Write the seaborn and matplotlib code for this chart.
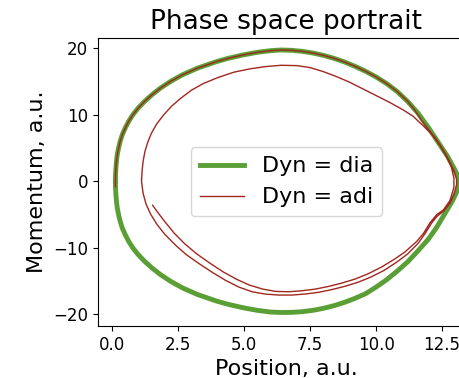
import matplotlib
matplotlib.use("Agg")
import matplotlib.pyplot as plt
import pandas as pd
import seaborn as sns

# Diabatic trajectory: one closed orbit in phase space (clockwise from the left turning point)
dia_position = [0.12, 0.125, 0.14, 0.16, 0.19, 0.24, 0.30, 0.38, 0.49, 0.62, 0.78, 0.98,
                1.22, 1.50, 1.82, 2.20, 2.65, 3.22, 3.95, 4.40, 4.95, 5.50, 6.00, 6.40,
                6.80, 7.20, 7.60, 8.00, 8.40, 8.80, 9.20, 9.60, 10.00, 10.40, 10.80, 11.20,
                11.60, 12.00, 12.40, 12.70, 12.95, 13.10, 13.15,
                13.10, 12.90, 12.60, 12.30, 12.00, 11.60, 11.20, 10.80, 10.40, 10.00, 9.60,
                9.20, 8.80, 8.40, 8.00, 7.60, 7.20, 6.80, 6.40, 6.00, 5.50, 4.95, 4.40,
                3.95, 3.22, 2.65, 2.20, 1.82, 1.50, 1.22, 0.98, 0.78, 0.62, 0.49, 0.38,
                0.30, 0.24, 0.19, 0.16, 0.14, 0.125, 0.12]
dia_momentum = [0.0, 1.0, 2.0, 3.0, 4.0, 5.0, 6.0, 7.0, 8.0, 9.0, 10.0, 11.0,
                12.0, 13.0, 14.0, 15.0, 16.0, 17.0, 18.0, 18.5, 19.0, 19.4, 19.65, 19.75,
                19.7, 19.55, 19.3, 18.95, 18.5, 17.95, 17.3, 16.55, 15.7, 14.7, 13.5, 12.0,
                10.2, 8.0, 5.6, 3.8, 2.0, 0.8, 0.0,
                -1.2, -2.9, -4.9, -6.9, -8.6, -10.4, -12.1, -13.5, -14.8, -15.9, -16.9,
                -17.6, -18.2, -18.7, -19.1, -19.4, -19.6, -19.7, -19.72, -19.65, -19.4, -19.0, -18.5,
                -18.0, -17.0, -16.0, -15.0, -14.0, -13.0, -12.0, -11.0, -10.0, -9.0, -8.0, -7.0,
                -6.0, -5.0, -4.0, -3.0, -2.0, -1.0, 0.0]

# Adiabatic trajectory: starts on the orbit, loses energy at each right-hand turn
adi_position = [0.12, 0.12, 0.125, 0.14, 0.16, 0.19, 0.24, 0.30, 0.38, 0.49, 0.62, 0.78,
                0.98, 1.22, 1.50, 1.82, 2.20, 2.65, 3.22, 3.95, 4.40, 4.95, 5.50, 6.00,
                6.40, 6.80, 7.20, 7.60, 8.00, 8.40, 8.80, 9.20, 9.60, 10.00, 10.40, 10.80,
                11.20, 11.45, 11.70, 12.00, 12.25, 12.50, 12.75, 12.95, 13.05,
                13.05, 12.95, 12.80, 12.55, 12.30, 12.10, 11.85, 11.60, 11.20, 10.80, 10.30,
                9.80, 9.30, 8.80, 8.30, 7.80, 7.30, 6.80, 6.30, 5.80, 5.30, 4.80, 4.30,
                3.80, 3.30, 2.80, 2.40, 2.00, 1.70, 1.45, 1.28, 1.17, 1.11,
                1.13, 1.17, 1.24, 1.34, 1.48, 1.68, 1.95, 2.25, 2.60, 3.00, 3.45, 4.00,
                4.60, 5.20, 5.80, 6.40, 7.00, 7.50, 8.00, 8.50, 9.00, 9.50, 10.00, 10.50,
                11.00, 11.40, 11.80, 12.10, 12.40, 12.65, 12.85, 12.95,
                12.95, 12.80, 12.55, 12.30, 12.05, 11.80, 11.55, 11.10, 10.70, 10.20, 9.70,
                9.20, 8.70, 8.20, 7.70, 7.20, 6.70, 6.20, 5.70, 5.20, 4.70, 4.20, 3.70,
                3.20, 2.75, 2.35, 2.00, 1.75, 1.53]
adi_momentum = [-0.8, 0.0, 1.0, 2.0, 3.0, 4.0, 5.0, 6.0, 7.0, 8.0, 9.0, 10.0,
                11.0, 12.0, 13.0, 14.0, 15.0, 16.0, 17.0, 18.0, 18.5, 19.0, 19.4, 19.65,
                19.75, 19.7, 19.55, 19.3, 18.95, 18.5, 17.95, 17.3, 16.55, 15.7, 14.7, 13.5,
                12.0, 10.8, 9.3, 7.7, 6.5, 4.9, 3.2, 1.6, 0.3,
                -0.5, -2.0, -3.3, -4.5, -5.3, -6.3, -7.9, -9.3, -10.9, -12.1, -13.4,
                -14.4, -15.2, -15.8, -16.3, -16.7, -16.95, -17.1, -17.1, -16.95, -16.6, -15.9, -14.9,
                -13.7, -12.4, -11.0, -9.6, -8.0, -6.5, -4.9, -3.4, -1.8, 0.0,
                1.5, 3.0, 4.5, 5.8, 7.2, 8.6, 10.0, 11.3, 12.5, 13.7, 14.7, 15.6,
                16.4, 16.9, 17.25, 17.45, 17.4, 17.1, 16.5, 15.75, 14.9, 13.9, 12.9, 11.9,
                10.8, 9.8, 8.3, 7.1, 5.6, 4.0, 2.2, 0.5,
                -0.9, -2.9, -4.3, -5.0, -6.2, -7.8, -9.0, -10.6, -11.7, -12.9, -13.9,
                -14.7, -15.3, -15.8, -16.2, -16.45, -16.6, -16.55, -16.2, -15.6, -14.7, -13.6, -12.3,
                -10.9, -9.4, -7.8, -6.1, -4.8, -3.6]

dia = pd.DataFrame({"Position": dia_position, "Momentum": dia_momentum})
adi = pd.DataFrame({"Position": adi_position, "Momentum": adi_momentum})

fig = plt.figure(figsize=(4.59, 3.78), dpi=100)
ax = fig.add_axes([0.2129, 0.1376, 0.822, 0.7627])

sns.lineplot(data=dia, x="Position", y="Momentum", sort=False, estimator=None,
             color="#5a9f35", linewidth=3.5, solid_joinstyle="round",
             label="Dyn = dia", ax=ax)
sns.lineplot(data=adi, x="Position", y="Momentum", sort=False, estimator=None,
             color="#a1271f", linewidth=1.0, solid_joinstyle="round",
             label="Dyn = adi", ax=ax)

ax.set_xlim(-0.55, 13.75)
ax.set_ylim(-21.75, 21.6)
ax.set_xticks([0.0, 2.5, 5.0, 7.5, 10.0, 12.5])
ax.set_yticks([-20, -10, 0, 10, 20])
ax.tick_params(labelsize=12)
ax.set_xlabel("Position, a.u.", fontsize=16)
ax.set_ylabel("Momentum, a.u.", fontsize=16)
ax.set_title("Phase space portrait", fontsize=19)
ax.legend(loc="center", fontsize=16)

fig.savefig("out.png", dpi=100)
